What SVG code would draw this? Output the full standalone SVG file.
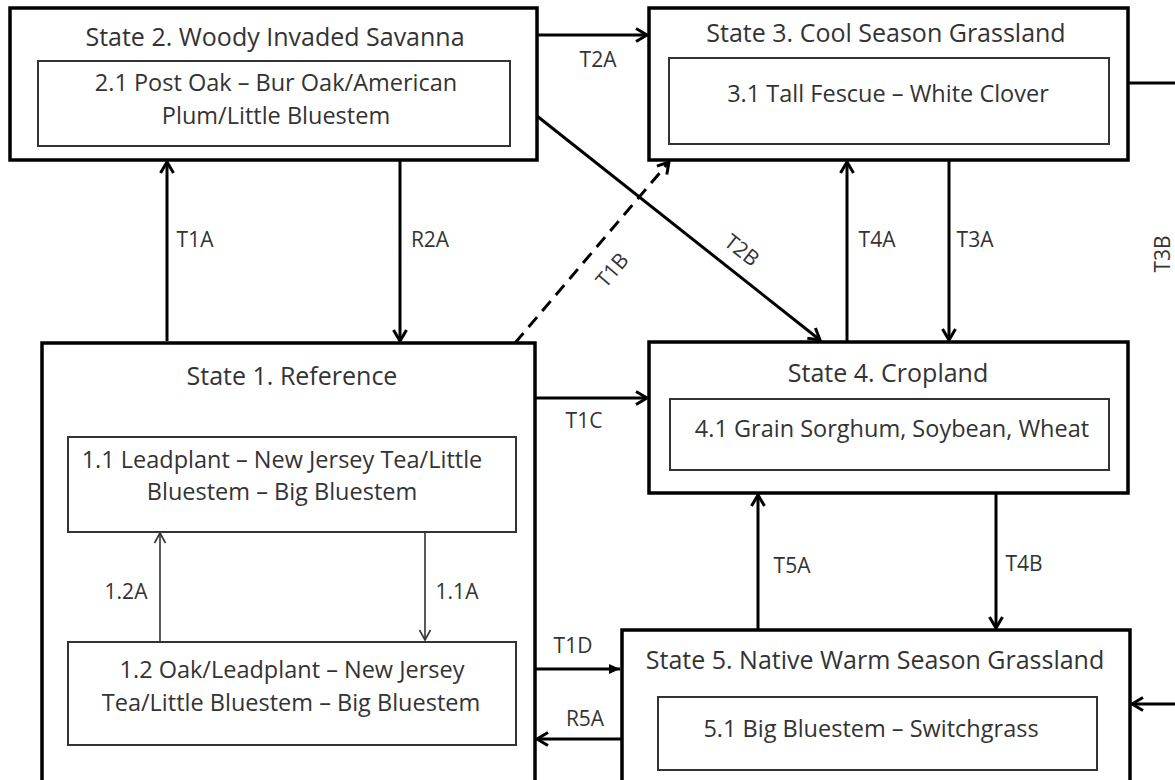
<svg xmlns="http://www.w3.org/2000/svg" width="1175" height="780" viewBox="0 0 1175 780">
<defs>
<style>
.box{fill:#fff;stroke:#000;stroke-width:3.5}
.inner{fill:#fff;stroke:#333;stroke-width:2}
text{font-family:"Open Sans","Liberation Sans",sans-serif;fill:#333;text-anchor:middle}
.title{font-size:25px}
.txt{font-size:23.5px}
.lbl{font-size:21px}
.c{stroke:#000;stroke-width:3;fill:none}
.dash{stroke-dasharray:13 8}
.thin{stroke:#333;stroke-width:1.6;fill:none}
</style>
<marker id="ah" markerUnits="userSpaceOnUse" markerWidth="16" markerHeight="16" viewBox="0 0 16 16" refX="13" refY="8" orient="auto">
<path d="M2,1.5 L13,8 L2,14.5" fill="none" stroke="#000" stroke-width="3"/>
</marker>
<marker id="ahf" markerUnits="userSpaceOnUse" markerWidth="14" markerHeight="12" viewBox="0 0 14 12" refX="12" refY="6" orient="auto">
<path d="M1,1 L12,6 L1,11 z" fill="#000"/>
</marker>
<marker id="aht" markerUnits="userSpaceOnUse" markerWidth="14" markerHeight="14" viewBox="0 0 14 14" refX="12" refY="7" orient="auto">
<path d="M2,1.5 L12,7 L2,12.5" fill="none" stroke="#333" stroke-width="1.6"/>
</marker>
</defs>
<rect width="1175" height="780" fill="#fff"/>

<g id="state2">
<rect class="box" x="10" y="8" width="527" height="152"/>
<text class="title" x="275" y="46">State 2. Woody Invaded Savanna</text>
<rect class="inner" x="38" y="61" width="472" height="85"/>
<text class="txt" x="276" y="91">2.1 Post Oak – Bur Oak/American</text>
<text class="txt" x="276" y="124">Plum/Little Bluestem</text>
</g>

<g id="state3">
<rect class="box" x="649" y="8" width="479" height="152"/>
<text class="title" x="886" y="42">State 3. Cool Season Grassland</text>
<rect class="inner" x="669" y="58" width="440" height="86"/>
<text class="txt" x="888" y="102">3.1 Tall Fescue – White Clover</text>
</g>

<g id="state1">
<rect class="box" x="42" y="343" width="493" height="470"/>
<text class="title" x="292" y="385">State 1. Reference</text>
<g id="phase1-1">
<rect class="inner" x="68" y="437" width="448" height="95"/>
<text class="txt" x="282" y="468">1.1 Leadplant – New Jersey Tea/Little</text>
<text class="txt" x="282" y="500">Bluestem – Big Bluestem</text>
</g>
<g id="phase1-2">
<rect class="inner" x="68" y="642" width="448" height="103"/>
<text class="txt" x="292" y="678">1.2 Oak/Leadplant – New Jersey</text>
<text class="txt" x="291" y="711">Tea/Little Bluestem – Big Bluestem</text>
</g>
</g>

<g id="state4">
<rect class="box" x="649" y="342" width="479" height="151"/>
<text class="title" x="888" y="382">State 4. Cropland</text>
<rect class="inner" x="670" y="399" width="439" height="71"/>
<text class="txt" x="892" y="437">4.1 Grain Sorghum, Soybean, Wheat</text>
</g>

<g id="state5">
<rect class="box" x="622" y="630" width="508" height="170"/>
<text class="title" x="875" y="669">State 5. Native Warm Season Grassland</text>
<rect class="inner" x="658" y="697" width="439" height="73"/>
<text class="txt" x="871" y="737">5.1 Big Bluestem – Switchgrass</text>
</g>

<g id="connectors">
<path class="c" d="M167,341 L167,162" marker-end="url(#ah)"/>
<path class="c" d="M400,160 L400,341" marker-end="url(#ah)"/>
<path class="c" d="M537,35 L647,35" marker-end="url(#ah)"/>
<path class="c" d="M537,116 L820,340" marker-end="url(#ah)"/>
<path class="c dash" d="M515,343 L669,162" marker-end="url(#ah)"/>
<path class="c" d="M847,342 L847,162" marker-end="url(#ah)"/>
<path class="c" d="M949,160 L949,340" marker-end="url(#ah)"/>
<path class="c" d="M535,398 L647,398" marker-end="url(#ah)"/>
<path class="c" d="M758,630 L758,495" marker-end="url(#ah)"/>
<path class="c" d="M996,493 L996,628" marker-end="url(#ah)"/>
<path class="c" d="M535,669 L620,669" marker-end="url(#ahf)"/>
<path class="c" d="M622,739 L537,739" marker-end="url(#ah)"/>
<path class="c" d="M1128,83 L1175,83"/>
<path class="c" d="M1175,704 L1132,704" marker-end="url(#ah)"/>
<path class="thin" d="M160,642 L160,533" marker-end="url(#aht)"/>
<path class="thin" d="M425,532 L425,640" marker-end="url(#aht)"/>

<text class="lbl" x="598" y="67">T2A</text>
<text class="lbl" x="195" y="247">T1A</text>
<text class="lbl" x="430" y="247">R2A</text>
<text class="lbl" x="877" y="247">T4A</text>
<text class="lbl" x="975" y="247">T3A</text>
<text class="lbl" transform="translate(742,250) rotate(38)" y="7.5">T2B</text>
<text class="lbl" transform="translate(612,270) rotate(-49.6)" y="7.5">T1B</text>
<text class="lbl" transform="translate(1162,254) rotate(-90)" y="7.5">T3B</text>
<text class="lbl" x="584" y="428">T1C</text>
<text class="lbl" x="573" y="653">T1D</text>
<text class="lbl" x="585" y="726">R5A</text>
<text class="lbl" x="792" y="573">T5A</text>
<text class="lbl" x="1024" y="571">T4B</text>
<text class="lbl" x="126" y="599">1.2A</text>
<text class="lbl" x="457" y="599">1.1A</text>
</g>
</svg>
